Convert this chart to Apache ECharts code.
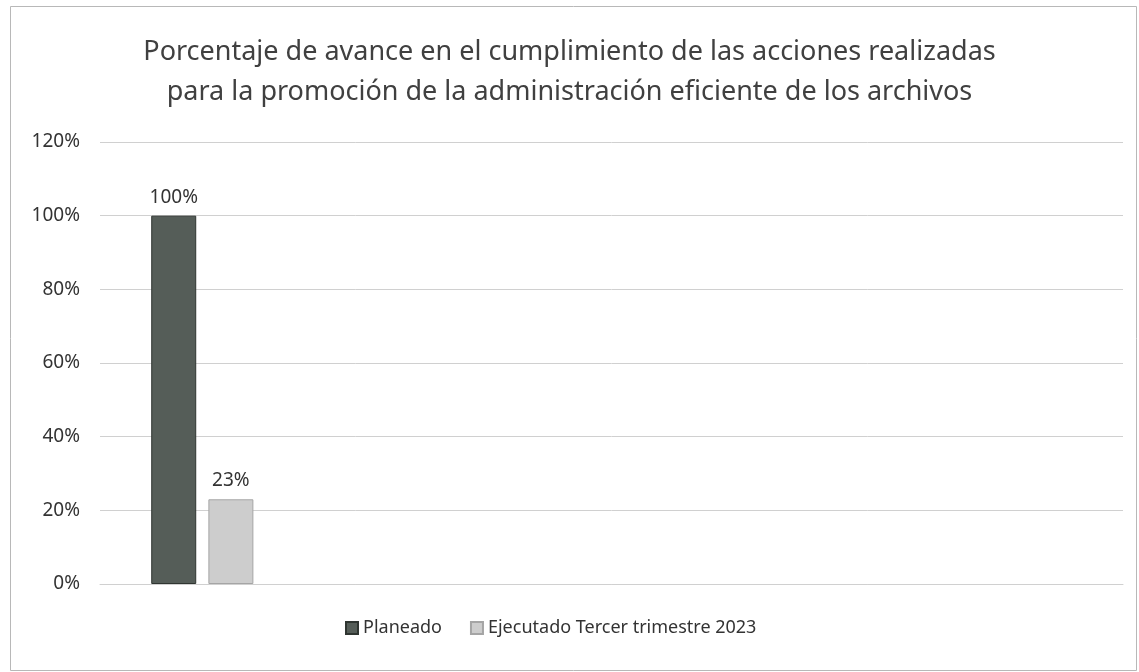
<!DOCTYPE html>
<html>
<head>
<meta charset="utf-8">
<script src="https://cdn.jsdelivr.net/npm/echarts@6/dist/echarts.min.js"></script>
<style>
html,body{margin:0;padding:0;background:#fff;}
#c{width:1139px;height:672px;}
</style>
</head>
<body>
<div id="c"></div>
<script>
const titleText = 'Porcentaje de avance en el cumplimiento de las acciones realizadas\npara la promoción de la administración eficiente de los archivos';
const categories = ['', '', '', '', ''];
const seriesNames = ['Planeado', 'Ejecutado Tercer trimestre 2023'];
const planeado = [100, null, null, null, null];
const ejecutado = [23, null, null, null, null];
const yTicks = { min: 0, max: 120, interval: 20 };

const chart = echarts.init(document.getElementById('c'), null, { renderer: 'canvas' });
const font = 'Noto Sans';
chart.setOption({
  animation: false,
  backgroundColor: '#fff',
  graphic: [{
    type: 'rect', left: 8, top: 4,
    shape: { width: 1126, height: 664 },
    style: { fill: 'none', stroke: '#b8b8b8', lineWidth: 1 }
  }],
  title: {
    text: titleText,
    left: 'center',
    top: 27,
    textStyle: { fontFamily: font, fontSize: 27, fontWeight: 'normal', color: '#404040', lineHeight: 40 }
  },
  legend: {
    data: seriesNames,
    left: 340,
    top: 614,
    itemWidth: 12,
    itemHeight: 12,
    itemGap: 28,
    icon: 'rect',
    textStyle: { fontFamily: font, fontSize: 18, color: '#333' }
  },
  grid: { left: 100, right: 16, top: 142, bottom: 88 },
  xAxis: {
    type: 'category',
    data: categories,
    axisLine: { show: true, lineStyle: { color: '#d0d0d0' } },
    axisTick: { show: false },
    axisLabel: { show: false }
  },
  yAxis: {
    type: 'value',
    min: yTicks.min, max: yTicks.max, interval: yTicks.interval,
    axisLine: { show: false },
    axisTick: { show: false },
    axisLabel: { formatter: '{value}%', fontFamily: font, fontSize: 19, color: '#333', margin: 20 },
    splitLine: { lineStyle: { color: '#d0d0d0', width: 1 } }
  },
  series: [
    {
      name: seriesNames[0], type: 'bar', data: planeado,
      barWidth: 45, barGap: '27%',
      itemStyle: { color: '#555d58', borderColor: '#2f3531', borderWidth: 1 },
      label: { show: true, position: 'top', distance: 9, formatter: '{c}%', fontFamily: font, fontSize: 19, color: '#333' }
    },
    {
      name: seriesNames[1], type: 'bar', data: ejecutado,
      barWidth: 45,
      itemStyle: { color: '#cdcdcd', borderColor: '#a5a5a5', borderWidth: 1 },
      label: { show: true, position: 'top', distance: 9, formatter: '{c}%', fontFamily: font, fontSize: 19, color: '#333' }
    }
  ]
});
</script>
</body>
</html>
